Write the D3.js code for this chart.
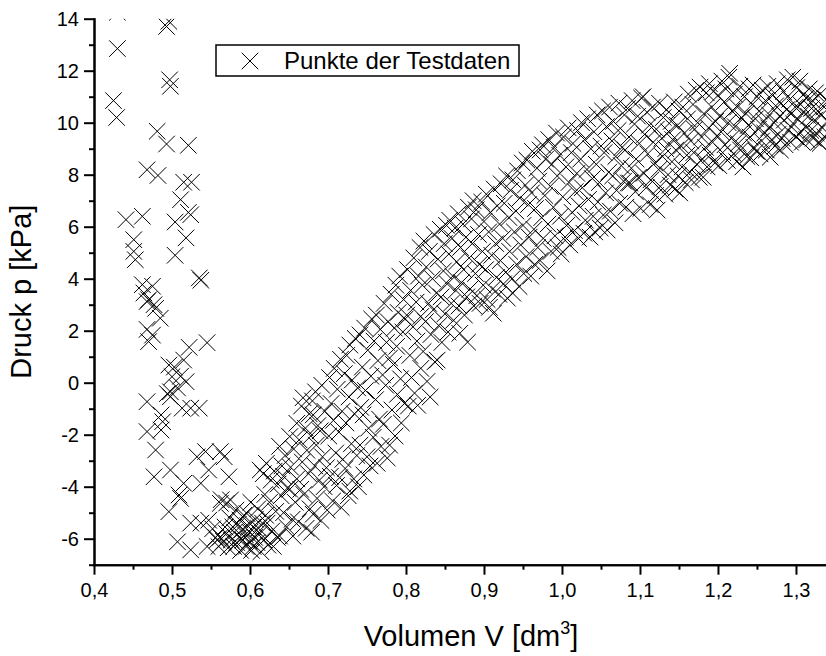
<!DOCTYPE html>
<html>
<head>
<meta charset="utf-8">
<script src="https://cdn.jsdelivr.net/npm/d3@7"></script>
<style>
	body { margin: 0; background: #fff; }
	svg { display: block; font-family: 'Liberation Sans', Arial, sans-serif; }
	.mark { fill: none; stroke: #000; stroke-width: 1; }
	.axis path, .axis line { stroke: #000; stroke-width: 2; }
	.axis text { fill: #000; font-size: 20px; font-family: 'Liberation Sans', Arial, sans-serif; }
</style>
</head>
<body>
<svg id="chart" width="826" height="656"></svg>
<script>
// Volumen [dm3], Druck [kPa]
const tailPoints = [
	[0.430,14.25],[0.493,13.7],[0.496,13.9],[0.430,12.85],[0.497,11.65],[0.498,11.4],[0.425,10.85],[0.429,10.2],
	[0.481,9.67],[0.493,9.18],[0.521,9.13],[0.468,8.19],[0.482,7.97],[0.515,7.71],[0.525,7.71],[0.511,7.04],
	[0.441,6.27],[0.462,6.40],[0.504,6.18],[0.521,6.55],[0.524,6.46],[0.451,5.50],[0.518,5.57],[0.451,5.05],
	[0.453,4.73],[0.504,4.90],[0.535,4.03],[0.537,3.94],[0.462,3.77],[0.475,3.71],[0.464,3.45],[0.470,3.19],
	[0.477,3.00],[0.468,3.12],[0.479,2.86],[0.485,2.48],[0.468,2.05],[0.475,1.83],[0.470,1.58],[0.522,1.36],
	[0.545,1.54],[0.496,0.68],[0.515,0.87],[0.500,0.23],[0.518,0.04],[0.498,-0.35],[0.498,-0.54],[0.468,-0.73],
	[0.513,-0.98],[0.524,-0.98],[0.535,-0.98],[0.486,-1.24],[0.468,-1.88],[0.486,-1.82],[0.488,-1.50],[0.479,-2.59],
	[0.532,-2.85],[0.543,-2.65],[0.562,-2.65],[0.567,-2.85],[0.547,-3.36],[0.573,-3.62],[0.477,-3.62],[0.498,-3.36],
	[0.515,-3.87],[0.537,-3.87],[0.509,-4.32],[0.511,-4.45],[0.496,-4.96],[0.562,-4.64],[0.575,-4.51],[0.507,-6.12],
	[0.524,-6.43],[0.524,-5.40],[0.537,-5.40],[0.545,-6.30],[0.547,-5.29],[0.558,-6.05],[0.503,0.60],[0.511,0.25],
	[0.494,-0.42],[0.507,-0.20]
]

const valleyPoints = [
	[0.552,-5.62],[0.556,-5.95],[0.560,-6.30],[0.562,-5.94],[0.563,-4.50],[0.566,-6.10],[0.568,-5.55],[0.570,-5.80],
	[0.570,-4.63],[0.572,-6.35],[0.574,-5.20],[0.576,-6.05],[0.578,-5.55],[0.579,-6.30],[0.580,-5.75],[0.582,-4.90],
	[0.583,-6.15],[0.585,-5.45],[0.586,-5.95],[0.587,-5.28],[0.588,-6.45],[0.590,-5.65],[0.591,-6.05],[0.592,-5.10],
	[0.594,-5.85],[0.595,-6.30],[0.596,-5.03],[0.597,-5.50],[0.599,-6.10],[0.600,-5.75],[0.601,-4.60],[0.602,-6.45],
	[0.604,-5.55],[0.604,-6.30],[0.606,-5.95],[0.607,-5.25],[0.609,-6.15],[0.610,-4.85],[0.611,-5.60],[0.613,-5.80],
	[0.613,-3.36],[0.614,-6.50],[0.616,-5.40],[0.617,-3.50],[0.618,-6.05],[0.619,-4.30],[0.620,-5.10],[0.621,-3.10],
	[0.622,-5.40],[0.623,-6.25],[0.625,-4.60],[0.627,-3.75],[0.628,-5.70],[0.630,-6.30],[0.631,-3.40],[0.633,-4.95],
	[0.635,-5.95],[0.636,-3.90],[0.638,-2.45],[0.638,-5.90],[0.640,-4.35],[0.641,-3.20],[0.643,-3.60],[0.643,-5.00],
	[0.645,-2.80],[0.647,-5.55],[0.648,-4.05],[0.651,-2.07],[0.651,-4.10],[0.652,-3.25],[0.654,-5.25],[0.655,-5.90],
	[0.656,-2.55],[0.658,-4.60],[0.660,-1.56],[0.660,-3.70]
]

const risePoints = [
	[0.662,-5.35],[0.663,-2.20],[0.665,-4.10],[0.666,-0.90],[0.667,-3.05],[0.668,-0.58],[0.669,-4.30],[0.671,-1.75],
	[0.672,-5.60],[0.673,-2.60],[0.675,-3.50],[0.676,-1.20],[0.677,-4.85],[0.678,-2.05],[0.679,-5.75],[0.680,-0.70],
	[0.681,-1.24],[0.681,-5.06],[0.683,-3.20],[0.684,-0.35],[0.685,-2.40],[0.686,-4.45],[0.687,-1.65],[0.689,-3.75],
	[0.690,-1.85],[0.691,-5.30],[0.692,-0.10],[0.693,-2.85],[0.695,-4.00],[0.696,-1.10],[0.698,-3.27],[0.699,-4.90],
	[0.701,-2.05],[0.702,0.20],[0.703,-3.60],[0.704,-0.80],[0.706,-4.55],[0.707,-1.45],[0.708,0.55],[0.710,-2.70],
	[0.711,-3.95],[0.712,-0.25],[0.714,-1.90],[0.715,-3.65],[0.716,0.90],[0.717,-4.80],[0.718,-1.10],[0.719,-2.95],
	[0.721,0.35],[0.722,-3.30],[0.723,-1.55],[0.724,1.05],[0.726,-4.35],[0.727,-0.55],[0.728,1.45],[0.728,-4.17],
	[0.730,-2.35],[0.731,0.10],[0.733,-3.70],[0.734,-1.20],[0.735,1.70],[0.737,-2.80],[0.738,-0.20],[0.739,-4.00],
	[0.741,1.84],[0.741,-2.40],[0.742,-0.95],[0.744,0.60],[0.745,-1.24],[0.746,-3.55],[0.747,2.10],[0.748,-0.30],
	[0.750,-2.85],[0.751,1.25],[0.752,-1.75],[0.754,-3.20],[0.755,0.25],[0.756,2.45],[0.758,-2.10],[0.759,1.60],
	[0.761,-0.65],[0.762,2.60],[0.763,-3.10],[0.764,0.85],[0.766,-1.40],[0.767,2.05],[0.768,-2.45],[0.770,0.30],
	[0.771,-1.60],[0.772,3.05],[0.774,-0.10],[0.775,1.55],[0.776,-2.90],[0.777,2.35],[0.779,-2.40],[0.779,0.95],
	[0.781,3.40],[0.782,-1.05],[0.784,0.70],[0.785,2.10],[0.786,-2.05],[0.787,3.75],[0.788,1.40],[0.789,-0.45],
	[0.790,2.70],[0.792,4.10],[0.793,0.15],[0.794,-1.55],[0.796,1.95],[0.797,3.20],[0.798,-0.80],[0.799,2.45],
	[0.801,2.60],[0.802,4.35],[0.803,-0.90],[0.805,1.05],[0.806,3.55],[0.807,0.20],[0.809,2.15],[0.810,4.80],
	[0.811,-0.40],[0.813,3.10],[0.814,1.60],[0.815,-0.87],[0.816,4.10],[0.818,5.20],[0.819,2.55],[0.819,0.55],
	[0.821,3.75],[0.822,1.20],[0.823,5.45],[0.825,2.35],[0.826,4.45],[0.827,0.05],[0.829,3.05],[0.830,5.05],
	[0.831,-0.55],[0.832,1.85],[0.834,4.00],[0.835,2.80],[0.836,5.70],[0.837,0.80],[0.839,3.45],[0.840,0.87],
	[0.841,4.75],[0.842,2.20],[0.844,5.90],[0.845,3.30],[0.846,1.55],[0.848,4.30],[0.849,5.35],[0.850,2.65],
	[0.852,6.05],[0.853,3.80],[0.854,1.95],[0.855,4.95],[0.856,6.25],[0.858,3.05],[0.859,5.55],[0.860,4.10],
	[0.861,2.40],[0.863,5.95],[0.864,3.55],[0.865,4.65],[0.867,6.50],[0.868,2.95],[0.869,1.90],[0.870,5.20],
	[0.871,3.85],[0.873,6.10],[0.874,4.35],[0.875,2.60],[0.877,5.60],[0.878,3.30],[0.879,1.56],[0.880,6.75],
	[0.881,4.80],[0.882,3.60],[0.884,6.30],[0.885,5.35],[0.886,7.00],[0.887,2.95],[0.889,4.20],[0.890,6.65],
	[0.891,3.35],[0.893,5.70],[0.894,4.55],[0.895,3.05],[0.897,6.95],[0.898,5.05],[0.899,3.75],[0.900,6.20]
]

const plateauPoints = [
	[0.902,4.35],[0.903,7.25],[0.904,3.20],[0.906,5.80],[0.907,2.90],[0.908,6.55],[0.910,4.90],[0.911,3.60],
	[0.912,2.67],[0.913,7.45],[0.915,5.35],[0.916,4.05],[0.917,6.80],[0.919,3.40],[0.920,6.10],
	[0.921,4.70],[0.922,7.65],[0.924,5.55],[0.925,3.80],[0.926,6.90],[0.928,4.25],[0.929,7.95],[0.930,3.25],
	[0.932,6.35],[0.933,5.05],[0.934,7.40],[0.936,4.00],[0.937,3.44],[0.937,7.80],[0.939,5.80],
	[0.941,6.60],[0.942,4.55],[0.943,8.15],[0.945,3.70],[0.946,7.10],[0.947,5.30],[0.949,8.45],[0.950,6.05],
	[0.951,4.20],[0.953,7.60],[0.954,4.85],[0.955,8.56],[0.957,6.85],[0.958,5.60],[0.960,4.10],
	[0.961,7.30],[0.962,8.90],[0.964,5.90],[0.965,4.55],[0.966,6.70],[0.968,8.25],[0.969,5.20],[0.970,7.75],
	[0.972,8.95],[0.972,4.70],[0.974,6.35],[0.975,9.15],[0.976,5.55],[0.978,7.20],[0.979,8.60],
	[0.981,4.30],[0.982,6.10],[0.983,9.35],[0.985,7.55],[0.986,5.05],[0.987,8.40],[0.989,6.75],[0.990,9.05],
	[0.991,5.65],[0.993,9.60],[0.994,7.95],[0.995,5.20],[0.997,8.75],[0.998,6.40],[0.999,4.95],
	[1.001,7.15],[1.002,9.45],[1.004,5.60],[1.005,8.30],[1.006,6.05],[1.008,9.80],[1.009,7.70],[1.010,5.30],
	[1.012,8.85],[1.013,6.55],[1.014,9.20],[1.016,5.85],[1.017,7.35],[1.019,8.05],[1.020,9.70],
	[1.021,5.55],[1.022,6.80],[1.024,8.60],[1.025,10.00],[1.026,7.50],[1.028,5.75],[1.029,9.35],[1.030,6.25],
	[1.032,8.20],[1.033,10.15],[1.034,7.05],[1.036,5.60],[1.037,9.00],[1.039,7.85],[1.040,6.40],
	[1.041,9.65],[1.042,5.80],[1.044,8.40],[1.045,10.30],[1.046,6.95],[1.048,7.70],[1.049,5.95],[1.050,9.10],
	[1.052,10.45],[1.053,6.45],[1.054,8.85],[1.056,7.30],[1.057,9.85],[1.058,5.87],[1.060,8.10],
	[1.061,10.60],[1.062,6.60],[1.064,9.30],[1.065,7.95],[1.066,10.05],[1.068,6.15],[1.069,8.70],[1.070,7.40],
	[1.072,9.70],[1.073,10.75],[1.074,6.90],[1.076,8.35],[1.077,9.05],[1.079,7.75],[1.080,10.30],
	[1.081,8.95],[1.082,6.75],[1.084,10.55],[1.085,7.68],[1.086,9.45],[1.087,7.68],[1.089,8.25],[1.090,10.85],
	[1.091,6.50],[1.093,9.95],[1.094,7.35],[1.095,8.60],[1.097,10.25],[1.098,7.90],[1.099,9.20],
	[1.101,6.70],[1.102,10.95],[1.104,11.00],[1.105,8.05],[1.106,9.55],[1.108,7.50],[1.109,10.40],[1.110,8.80],
	[1.112,9.90],[1.113,6.85],[1.114,7.80],[1.116,10.60],[1.117,9.25],[1.119,8.45],[1.120,7.20],
	[1.121,9.75],[1.122,6.64],[1.124,8.20],[1.125,10.75],[1.126,7.55],[1.128,9.40],[1.129,8.70],[1.130,10.20],
	[1.132,7.25],[1.133,9.00],[1.134,10.50],[1.136,8.00],[1.137,9.65],[1.139,7.60],[1.140,10.05],
	[1.141,8.50],[1.142,9.35],[1.144,10.80],[1.145,7.45],[1.146,8.95],[1.148,9.90],[1.149,7.95],[1.150,10.45],
	[1.151,7.30],[1.153,9.10],[1.154,8.30],[1.155,10.60],[1.157,9.60],[1.158,7.70],[1.160,8.75],
	[1.161,10.15],[1.162,11.10],[1.164,8.10],[1.165,9.30],[1.166,7.80],[1.168,10.70],[1.169,8.85],[1.170,9.75],
	[1.172,11.25],[1.173,8.40],[1.174,10.00],[1.176,7.90],[1.177,11.37],[1.179,9.45],[1.180,8.60],
	[1.181,7.90],[1.182,10.35],[1.184,9.05],[1.185,11.15],[1.186,8.30],[1.188,9.80],[1.189,11.50],[1.190,8.75],
	[1.192,10.60],[1.193,9.25],[1.194,11.20],[1.196,8.45],[1.197,10.05],[1.199,9.50],[1.200,11.05],
	[1.201,8.35],[1.202,10.25],[1.204,9.65],[1.205,11.60],[1.206,8.85],[1.208,10.80],[1.209,9.15],[1.210,11.30],
	[1.212,8.55],[1.213,10.00],[1.214,11.75],[1.215,11.90],[1.217,9.40],[1.218,10.45],[1.220,8.80],
	[1.221,11.10],[1.222,9.85],[1.224,8.50],[1.225,10.60],[1.226,9.20],[1.228,11.40],[1.229,8.95],[1.230,10.20],
	[1.232,8.30],[1.233,9.60],[1.234,11.00],[1.236,10.35],[1.237,8.70],[1.239,9.90],[1.240,11.30],
	[1.241,9.45],[1.242,8.65],[1.244,10.70],[1.245,11.45],[1.246,9.05],[1.248,10.15],[1.249,8.90],[1.250,11.00],
	[1.252,9.75],[1.253,10.45],[1.254,8.80],[1.256,9.30],[1.257,11.25],[1.259,10.05],[1.260,9.60],
	[1.261,10.85],[1.262,8.95],[1.264,11.40],[1.265,9.80],[1.266,10.30],[1.267,8.67],[1.269,9.35],[1.270,11.05],
	[1.272,10.00],[1.273,9.10],[1.274,10.65],[1.276,11.50],[1.277,9.55],[1.279,10.25],[1.280,8.95],
	[1.281,10.75],[1.282,9.40],[1.284,11.20],[1.285,10.10],[1.286,9.15],[1.288,10.50],[1.289,11.65],[1.290,9.70],
	[1.292,10.90],[1.293,9.25],[1.294,10.35],[1.296,11.75],[1.297,9.95],[1.299,10.60],[1.300,9.45],
	[1.301,11.35],[1.302,10.15],[1.304,9.55],[1.305,11.60],[1.306,10.70],[1.308,9.25],[1.309,10.40],[1.310,11.10],
	[1.312,9.85],[1.313,10.95],[1.314,9.35],[1.316,10.25],[1.317,11.30],[1.319,9.70],[1.320,10.55],
	[1.321,10.85],[1.322,9.40],[1.324,10.10],[1.325,11.15],[1.326,9.60],[1.328,10.45],[1.329,9.25],[1.331,11.10],
	[1.331,9.20],[1.333,10.30],[1.334,9.80],[1.336,10.60],[1.337,9.45],[1.339,10.90],[1.340,10.05]
]

const xTicks = [0.4, 0.5, 0.6, 0.7, 0.8, 0.9, 1.0, 1.1, 1.2, 1.3]
const xMinor = [0.45, 0.55, 0.65, 0.75, 0.85, 0.95, 1.05, 1.15, 1.25]
const yTicks = [-6, -4, -2, 0, 2, 4, 6, 8, 10, 12, 14]
const yMinor = [-7, -5, -3, -1, 1, 3, 5, 7, 9, 11, 13]
const legendLabel = 'Punkte der Testdaten'

const W = 826, H = 656
const m = { top: 18.7, right: 0, bottom: 91.3, left: 94 }

const x = d3.scaleLinear().domain([0.4, 1.3385]).range([m.left, W - m.right])
const y = d3.scaleLinear().domain([-7, 14]).range([H - m.bottom, m.top])

// german decimal comma, plain hyphen for negatives
const comma = d => d3.format('.1f')(d).replace('.', ',')
const plain = d => String(d)

const svg = d3.select('#chart')

svg.append('defs').append('clipPath').attr('id', 'plot')
	.append('rect')
	.attr('x', m.left).attr('y', m.top)
	.attr('width', W - m.left - m.right).attr('height', H - m.top - m.bottom)

const cross = d3.symbol().type(d3.symbolTimes).size(180)
const points = [].concat(tailPoints, valleyPoints, risePoints, plateauPoints)

svg.append('g').attr('clip-path', 'url(#plot)')
	.selectAll('path').data(points).join('path')
	.attr('class', 'mark')
	.attr('transform', d => `translate(${x(d[0])},${y(d[1])})`)
	.attr('d', cross)

// axes
const gx = svg.append('g').attr('class', 'axis').attr('transform', `translate(0,${y(-7)})`)
gx.call(d3.axisBottom(x).tickValues(xMinor).tickSize(5).tickSizeOuter(0).tickFormat(''))
gx.append('g').call(d3.axisBottom(x).tickValues(xTicks).tickSize(10).tickSizeOuter(0).tickPadding(8).tickFormat(comma))

const gy = svg.append('g').attr('class', 'axis').attr('transform', `translate(${x(0.4)},0)`)
gy.call(d3.axisLeft(y).tickValues(yMinor).tickSize(5).tickSizeOuter(0).tickFormat(''))
gy.append('g').call(d3.axisLeft(y).tickValues(yTicks).tickSize(10).tickSizeOuter(0).tickPadding(5).tickFormat(plain))
svg.selectAll('.axis .domain').attr('stroke-linecap', 'square')

// titles
const xt = svg.append('text')
	.attr('x', 471).attr('y', 646)
	.attr('text-anchor', 'middle').style('font-size', '29px')
	.text('Volumen V [dm')
xt.append('tspan').attr('dy', -12).style('font-size', '18px').text('3')
xt.append('tspan').attr('dy', 12).text(']')

svg.append('text')
	.attr('transform', `translate(31,${(m.top + y(-7)) / 2}) rotate(-90)`)
	.attr('text-anchor', 'middle').style('font-size', '29px')
	.text('Druck p [kPa]')

// legend
const lg = svg.append('g').attr('transform', 'translate(216,45)')
lg.append('rect').attr('width', 303).attr('height', 31)
	.attr('fill', '#fff').attr('stroke', '#000').attr('stroke-width', 1.5)
lg.append('path').attr('class', 'mark').attr('transform', 'translate(34,16)').attr('d', cross)
lg.append('text').attr('x', 68).attr('y', 24).style('font-size', '24px').text(legendLabel)
</script>
</body>
</html>
